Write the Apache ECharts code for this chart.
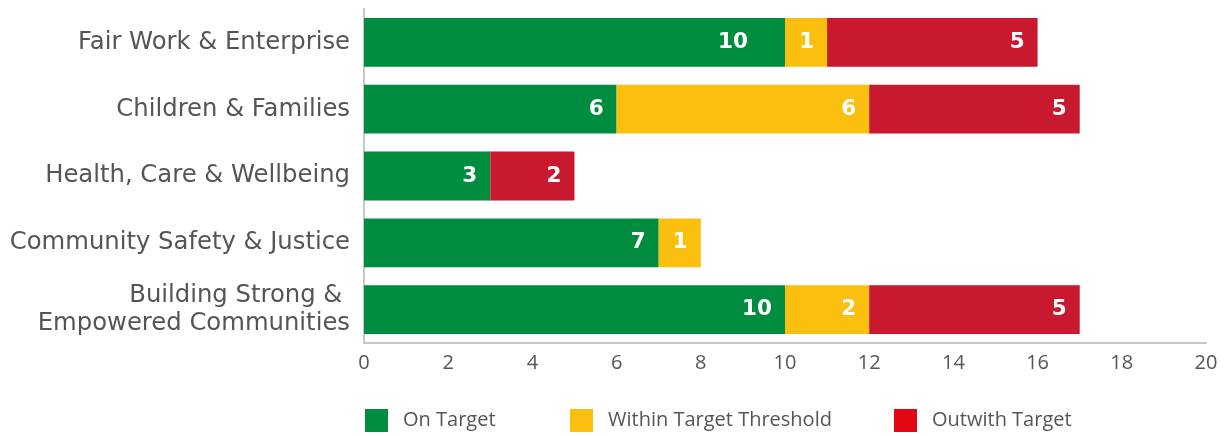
<!DOCTYPE html>
<html>
<head>
<meta charset="utf-8">
<script src="https://cdn.jsdelivr.net/npm/echarts@6/dist/echarts.min.js"></script>
<style>
  html, body { margin: 0; padding: 0; background: #fff; }
  #chart { width: 1226px; height: 436px; }
</style>
</head>
<body>
<div id="chart"></div>
<script>
// Outcome areas, top to bottom
const categories = [
  'Fair Work & Enterprise',
  'Children & Families',
  'Health, Care & Wellbeing',
  'Community Safety & Justice',
  'Building Strong & \nEmpowered Communities'
];
const onTarget = [10, 6, 3, 7, 10];
const withinThreshold = [1, 6, 0, 1, 2];
const outwithTarget = [5, 5, 2, 0, 5];
const seriesNames = ['On Target', 'Within Target Threshold', 'Outwith Target'];
const xTicks = [0, 2, 4, 6, 8, 10, 12, 14, 16, 18, 20];

const FONT = '"Open Sans", "Liberation Sans", sans-serif';
const CAT_FONT = '"DejaVu Sans", sans-serif';
const LABEL_FONT = '"DejaVu Sans", sans-serif';
const barColors = ['#008d3f', '#fbbf10', '#c8192e'];
const legendColors = ['#008d3f', '#fbbf10', '#e30613'];

// Category axis runs top to bottom, so reverse for ECharts' bottom-up order
const cats = categories.slice().reverse();
const rev = arr => arr.slice().reverse().map(v => (v === 0 ? null : v));

const label = {
  show: true,
  position: 'insideRight',
  distance: 13,
  color: '#fff',
  fontFamily: LABEL_FONT,
  fontWeight: 'bold',
  fontSize: 21.5
};

const values = [onTarget, withinThreshold, outwithTarget];
const series = seriesNames.map((name, i) => ({
  name,
  type: 'bar',
  stack: 'total',
  barCategoryGap: '27%',
  data: rev(values[i]),
  itemStyle: { color: barColors[i] },
  label,
  emphasis: { disabled: true }
}));

// The top row's green value sits further in from the bar end
const topIdx = cats.length - 1;
series[0].data[topIdx] = { value: series[0].data[topIdx], label: { offset: [-24, 0] } };

const legendLeft = [365, 570, 894];
const legends = seriesNames.map((name, i) => ({
  data: [{ name, itemStyle: { color: legendColors[i] } }],
  left: legendLeft[i],
  top: 409,
  icon: 'rect',
  itemWidth: 23,
  itemHeight: 23,
  padding: 0,
  selectedMode: false,
  textStyle: { color: '#555', fontSize: 20, fontFamily: FONT, padding: [0, 0, 0, 10] }
}));

const chart = echarts.init(document.getElementById('chart'), null, { renderer: 'canvas' });
chart.setOption({
  animation: false,
  grid: { left: 364, right: 20, top: 9, bottom: 93, containLabel: false },
  legend: legends,
  xAxis: {
    type: 'value',
    min: xTicks[0],
    max: xTicks[xTicks.length - 1],
    interval: 2,
    axisLine: { show: true, lineStyle: { color: '#c8c8c8', width: 2 } },
    axisTick: { show: false },
    splitLine: { show: false },
    axisLabel: { color: '#555', fontSize: 20, fontFamily: FONT, margin: 10 }
  },
  yAxis: {
    type: 'category',
    data: cats,
    axisLine: { show: true, lineStyle: { color: '#c8c8c8', width: 2 } },
    axisTick: { show: false },
    axisLabel: { color: '#555', fontSize: 24.3, fontFamily: CAT_FONT, margin: 14, lineHeight: 28, align: 'right' }
  },
  series
});
</script>
</body>
</html>
